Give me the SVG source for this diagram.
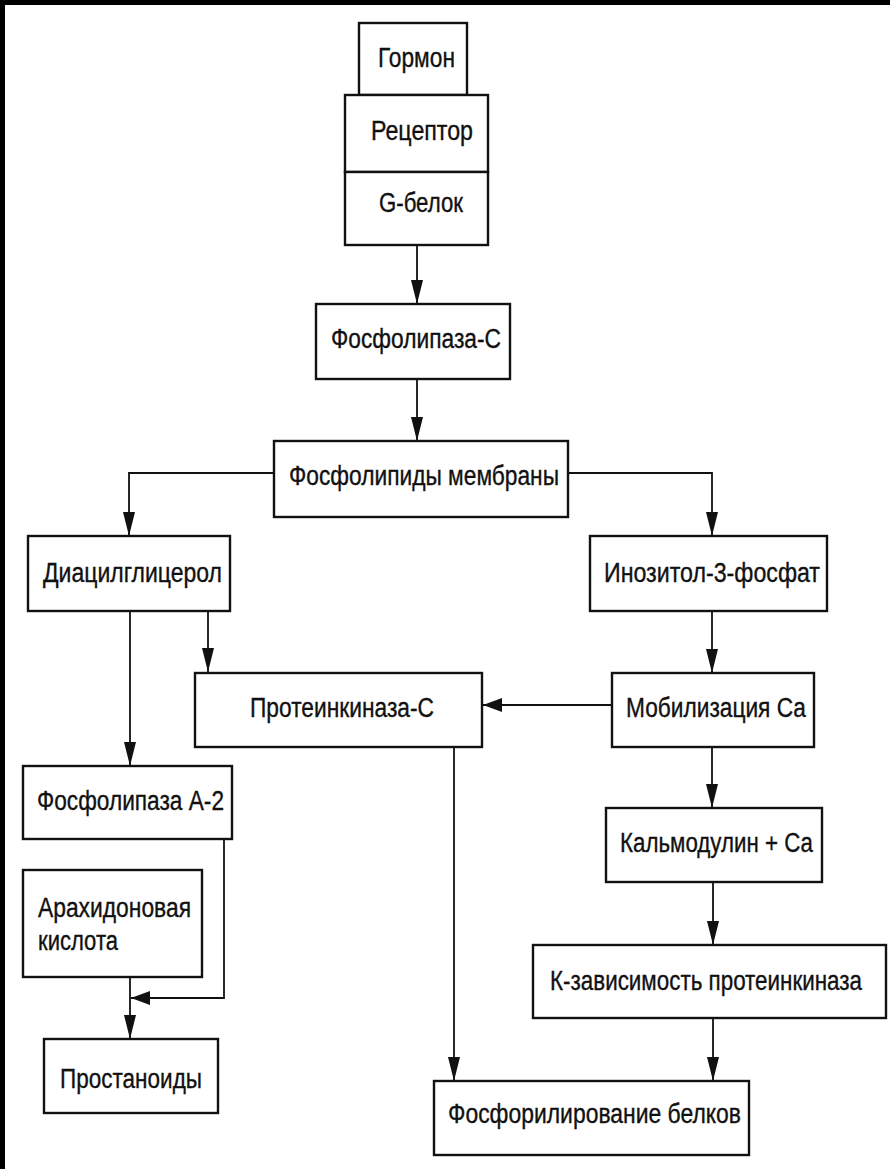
<svg xmlns="http://www.w3.org/2000/svg" width="890" height="1169" viewBox="0 0 890 1169">
<style>
.box{fill:#fff;stroke:#111;stroke-width:2.4}
.t{font-family:"Liberation Sans",Arial,sans-serif;font-size:27px;fill:#111;stroke:#111;stroke-width:0.35}
.c{fill:none;stroke:#111;stroke-width:1.8}
</style>
<defs>
<marker id="av" markerUnits="userSpaceOnUse" markerWidth="24" markerHeight="12" refX="24" refY="6" viewBox="0 0 24 12" orient="auto">
<path d="M0,0 L24,6 L0,12 z" fill="#111"/>
</marker>
<marker id="ah" markerUnits="userSpaceOnUse" markerWidth="19" markerHeight="14" refX="19" refY="7" viewBox="0 0 19 14" orient="auto">
<path d="M0,0 L19,7 L0,14 z" fill="#111"/>
</marker>
</defs>
<rect x="0" y="0" width="890" height="1169" fill="#fff"/>
<rect x="0" y="0" width="890" height="5" fill="#000"/>
<rect x="0" y="0" width="5" height="1169" fill="#000"/>

<g id="connectors">
<line class="c" x1="417" y1="245" x2="417" y2="304" marker-end="url(#av)"/>
<line class="c" x1="417" y1="379" x2="417" y2="441" marker-end="url(#av)"/>
<polyline class="c" points="274,473 129,473 129,536" marker-end="url(#av)"/>
<polyline class="c" points="568,473 712,473 712,536" marker-end="url(#av)"/>
<line class="c" x1="130" y1="611" x2="130" y2="766" marker-end="url(#av)"/>
<line class="c" x1="208" y1="611" x2="208" y2="672" marker-end="url(#av)"/>
<line class="c" x1="712" y1="611" x2="712" y2="673" marker-end="url(#av)"/>
<line class="c" x1="612" y1="705" x2="483" y2="705" marker-end="url(#ah)"/>
<line class="c" x1="712" y1="747" x2="712" y2="808" marker-end="url(#av)"/>
<line class="c" x1="713" y1="882" x2="713" y2="945" marker-end="url(#av)"/>
<line class="c" x1="713" y1="1018" x2="713" y2="1081" marker-end="url(#av)"/>
<line class="c" x1="454" y1="747" x2="454" y2="1081" marker-end="url(#av)"/>
<polyline class="c" points="224,839 224,998 131,998" marker-end="url(#ah)"/>
<line class="c" x1="130" y1="977" x2="130" y2="1039" marker-end="url(#av)"/>
</g>

<g id="gormon"><rect class="box" x="359" y="23" width="108" height="72"/>
<text class="t" x="378" y="67" textLength="77" lengthAdjust="spacingAndGlyphs">Гормон</text></g>
<g id="receptor"><rect class="box" x="345" y="95" width="143" height="77"/>
<text class="t" x="371" y="140" textLength="102" lengthAdjust="spacingAndGlyphs">Рецептор</text></g>
<g id="gprotein"><rect class="box" x="345" y="172" width="143" height="73"/>
<text class="t" x="379" y="212" textLength="84" lengthAdjust="spacingAndGlyphs">G-белок</text></g>
<g id="plc"><rect class="box" x="316" y="304" width="194" height="75"/>
<text class="t" x="331" y="348" textLength="170" lengthAdjust="spacingAndGlyphs">Фосфолипаза-С</text></g>
<g id="phospholipids"><rect class="box" x="274" y="441" width="294" height="76"/>
<text class="t" x="289" y="485" textLength="270" lengthAdjust="spacingAndGlyphs">Фосфолипиды мембраны</text></g>
<g id="dag"><rect class="box" x="28" y="536" width="202" height="75"/>
<text class="t" x="43" y="582" textLength="179" lengthAdjust="spacingAndGlyphs">Диацилглицерол</text></g>
<g id="ip3"><rect class="box" x="590" y="536" width="237" height="75"/>
<text class="t" x="604" y="582" textLength="216" lengthAdjust="spacingAndGlyphs">Инозитол-3-фосфат</text></g>
<g id="pkc"><rect class="box" x="195" y="673" width="287" height="74"/>
<text class="t" x="250" y="717" textLength="184" lengthAdjust="spacingAndGlyphs">Протеинкиназа-С</text></g>
<g id="camob"><rect class="box" x="612" y="673" width="202" height="74"/>
<text class="t" x="626" y="717" textLength="180" lengthAdjust="spacingAndGlyphs">Мобилизация Са</text></g>
<g id="pla2"><rect class="box" x="23" y="766" width="209" height="73"/>
<text class="t" x="37" y="810" textLength="187" lengthAdjust="spacingAndGlyphs">Фосфолипаза А-2</text></g>
<g id="calmodulin"><rect class="box" x="606" y="808" width="216" height="74"/>
<text class="t" x="620" y="852" textLength="193" lengthAdjust="spacingAndGlyphs">Кальмодулин + Са</text></g>
<g id="arachidonic"><rect class="box" x="23" y="870" width="179" height="107"/>
<text class="t" x="38" y="917" textLength="153" lengthAdjust="spacingAndGlyphs">Арахидоновая</text>
<text class="t" x="38" y="950" textLength="80" lengthAdjust="spacingAndGlyphs">кислота</text></g>
<g id="kdep"><rect class="box" x="533" y="945" width="353" height="73"/>
<text class="t" transform="translate(550,990) scale(0.83,1)" x="0" y="0">К-зависимость протеинкиназа</text></g>
<g id="prostanoids"><rect class="box" x="44" y="1039" width="174" height="74"/>
<text class="t" x="60" y="1088" textLength="142" lengthAdjust="spacingAndGlyphs">Простаноиды</text></g>
<g id="phosphorylation"><rect class="box" x="434" y="1081" width="315" height="74"/>
<text class="t" x="448" y="1123" textLength="293" lengthAdjust="spacingAndGlyphs">Фосфорилирование белков</text></g>
</svg>
